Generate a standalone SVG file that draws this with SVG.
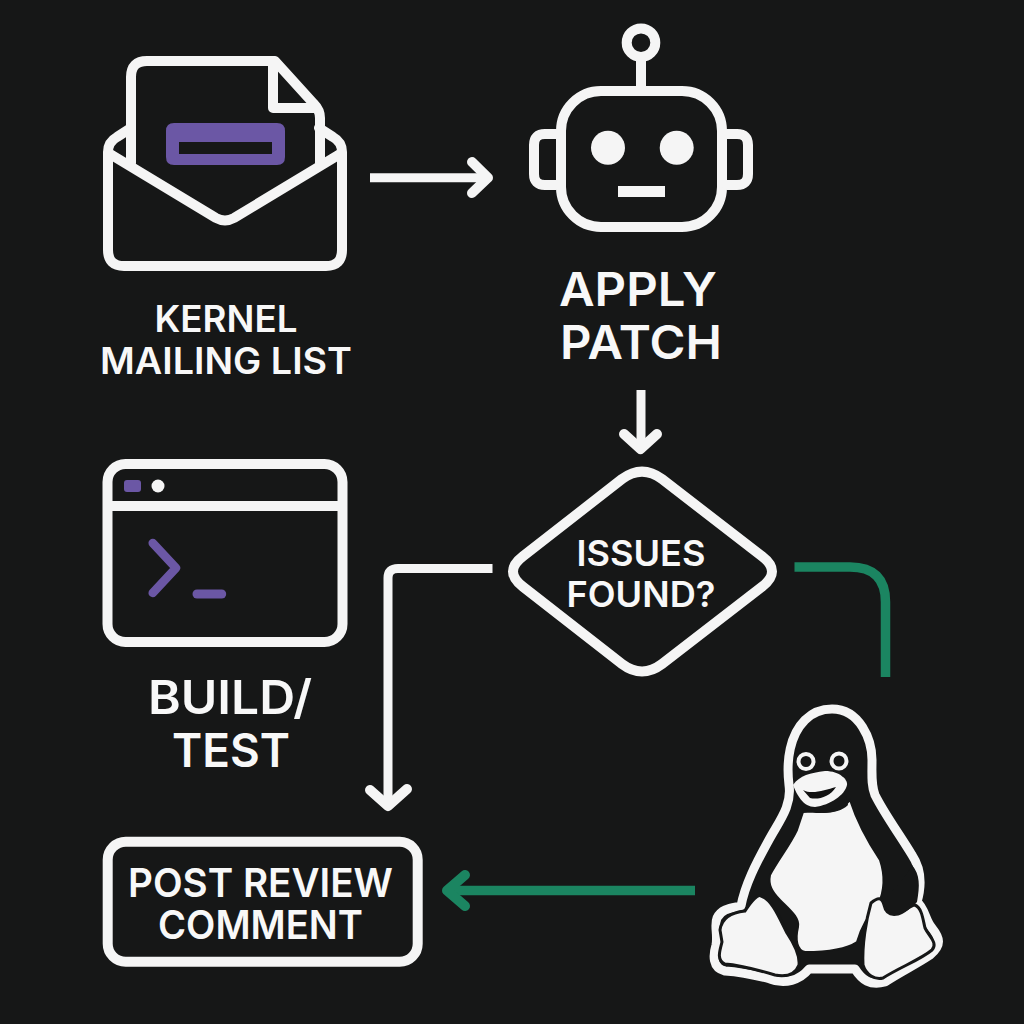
<svg xmlns="http://www.w3.org/2000/svg" width="1024" height="1024" viewBox="0 0 1024 1024">
<style>
.s{fill:none;stroke:#f5f5f5;stroke-width:10;stroke-linejoin:round;stroke-linecap:round}
.w{fill:#f5f5f5}
.p{fill:none;stroke:#6b57a5;stroke-linecap:round;stroke-linejoin:round}
.g{fill:none;stroke:#1b8561;stroke-width:9.5;stroke-linejoin:round}
.a{fill:none;stroke:#f5f5f5;stroke-width:9;stroke-linejoin:round}
.h{stroke-linecap:round;stroke-width:10}
text{font-family:"Inter","Liberation Sans",sans-serif;font-weight:600;fill:#f8f8f8;text-anchor:middle}
</style>
<rect width="1024" height="1024" fill="#161717"/>
<g id="connectors">
<path class="a" d="M370 177.7H488"/><path class="a h" d="M472 162L488 177.7L472 193"/>
<path class="a" d="M641 390V448"/><path class="a h" d="M624 434L640.500 449L657 434"/>
<path class="a" d="M492.500 568.500H398Q388 568.500 388 578V805"/><path class="a h" d="M370 790L388 806L407 789"/>
<path class="g" d="M794.500 567H850Q885.500 567 885.500 602V677"/>
<path class="g" d="M695 890.500H450"/><path class="g h" d="M465 875L447 890.500L465 906"/>
</g>
<g id="mailing-list">
<path class="s" d="M131 128L117 137Q108 142 108 152V250Q108 266 124 266H326Q342 266 342 250V152Q342 142 333 137L319 128"/>
<path class="s" d="M110 154L216 218Q225 223 234 218L340 154"/>
<path class="s" d="M131 163V77Q131 61 147 61H275L314 104Q320 110 320 118V163"/>
<path class="s" d="M273 61V108H316"/>
<path fill="#6b57a5" fill-rule="evenodd" d="M174 123H277Q285 123 285 131V157Q285 165 277 165H174Q166 165 166 157V131Q166 123 174 123ZM179 142V154H272V142Z"/>
<text x="226" y="332" font-size="37" textLength="143" lengthAdjust="spacingAndGlyphs">KERNEL</text>
<text x="226" y="374" font-size="37" textLength="252" lengthAdjust="spacingAndGlyphs">MAILING LIST</text>
</g>
<g id="apply-patch">
<circle class="s" cx="641" cy="42.7" r="14.3"/>
<path class="s" d="M641 58V91"/>
<rect class="s" x="561" y="91" width="161" height="136" rx="40"/>
<path class="s" d="M556 134H545Q534 134 534 145V174Q534 185 545 185H556"/>
<path class="s" d="M727 134H737Q748 134 748 145V174Q748 185 737 185H727"/>
<circle class="w" cx="608" cy="147.700" r="17"/>
<circle class="w" cx="676.700" cy="147.700" r="17"/>
<rect class="w" x="618" y="186" width="47" height="11"/>
<text x="638" y="306" font-size="47" textLength="158" lengthAdjust="spacingAndGlyphs">APPLY</text>
<text x="641" y="359" font-size="47" textLength="162" lengthAdjust="spacingAndGlyphs">PATCH</text>
</g>
<g id="build-test">
<rect class="s" x="107.500" y="464" width="235" height="178" rx="18"/>
<path class="s" d="M108 506H342" stroke-linecap="butt"/>
<rect x="124" y="480" width="17" height="12" rx="3" fill="#6b57a5"/>
<circle class="w" cx="158" cy="486" r="6.500"/>
<path class="p" stroke-width="8.500" d="M152.700 543L176 568L152.700 593"/>
<path class="p" stroke-width="9" d="M197 594H221.700"/>
<text x="230" y="714" font-size="47" textLength="164" lengthAdjust="spacingAndGlyphs">BUILD/</text>
<text x="231" y="767" font-size="47" textLength="118" lengthAdjust="spacingAndGlyphs">TEST</text>
</g>
<g id="issues-found">
<path class="s" d="M622 479Q642 464 662 479L762 556.300Q782 571.500 762 586.700L662 664Q642 679 622 664L523 586.700Q503 571.500 523 556.300Z"/>
<text x="641" y="566" font-size="36" font-weight="500" textLength="129" lengthAdjust="spacingAndGlyphs">ISSUES</text>
<text x="641" y="607" font-size="36" font-weight="500" textLength="149" lengthAdjust="spacingAndGlyphs">FOUND?</text>
</g>
<g id="post-review-comment">
<rect class="s" x="107.700" y="841.700" width="310" height="120" rx="18"/>
<text x="260.500" y="897" font-size="40" textLength="265" lengthAdjust="spacingAndGlyphs">POST REVIEW</text>
<text x="260.500" y="939" font-size="40" textLength="205" lengthAdjust="spacingAndGlyphs">COMMENT</text>
</g>
<g id="linux-penguin">
<path fill="#161717" stroke="#f5f5f5" stroke-width="9" stroke-linejoin="round" d="M832 709C860 709 872 740 872 760C872 775 871 785 875 795C885 815 900 835 912 855C922 870 922 885 917 902C925 908 925 920 932 928C940 938 942 945 930 955C915 965 900 972 885 982C870 986 862 980 855 969H809C800 980 785 985 770 979C755 975 740 972 725 971C712 968 713 955 716 945C718 935 714 925 717 918C722 908 733 908 741 906C745 885 755 865 770 838C780 820 792 805 789 785C786 760 790 735 805 720C813 712 822 709 832 709Z"/>
<path class="w" stroke="#161717" stroke-width="2" d="M803 812C812 810 835 818 850 800C858 825 870 845 880 860C885 875 885 890 878 905C868 915 862 925 857 942C845 950 825 952 805 952C797 950 795 940 798 927C800 918 790 910 780 900C772 892 768 885 770 875C778 860 790 845 797 830Z"/>
<path class="w" stroke="#161717" stroke-width="3" d="M720 930C722 915 735 912 745 911C752 900 758 894 761 896C772 900 778 915 787 933C795 945 800 955 799 965C795 975 785 977 775 975C755 969 740 965 725 964C716 960 720 950 722 942Z"/>
<path class="w" stroke="#161717" stroke-width="3" d="M871 903C878 897 882 897 884 905C886 915 893 915 898 914C905 912 910 905 915 905C922 908 923 920 925 928C930 938 938 943 932 950C920 960 900 967 883 978C875 980 866 975 863 965C862 945 866 920 871 903Z"/>
<path d="M883 902C888 912 895 915 902 913C908 911 913 906 917 902C920 885 920 875 912 865C905 880 890 892 883 902Z" fill="#161717"/>
<path fill="#161717" d="M802 808C820 815 840 812 846 796L848 805C838 815 815 815 802 808Z"/>
<path class="w" d="M793 785C800 775 810 773 825 771C840 771 848 780 847 785C845 795 830 805 815 807C803 807 797 795 793 785Z"/>
<path fill="#111" d="M803 790C812 795 825 790 836 787C830 797 818 800 810 798Z"/>
<circle cx="806" cy="761.500" r="7.500" fill="#161717" stroke="#f5f5f5" stroke-width="4"/>
<circle cx="839" cy="761" r="7.500" fill="#161717" stroke="#f5f5f5" stroke-width="4"/>
</g>
</svg>
